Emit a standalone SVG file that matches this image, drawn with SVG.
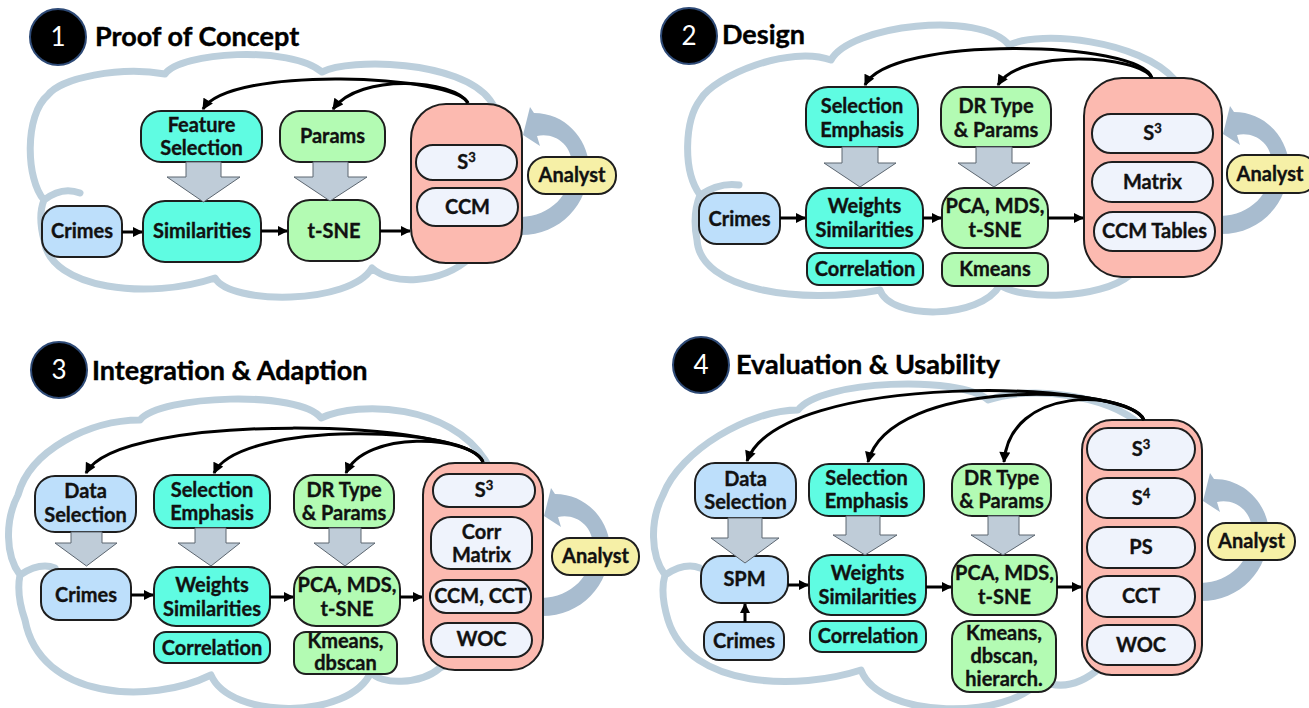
<svg xmlns="http://www.w3.org/2000/svg" width="1309" height="708" viewBox="0 0 1309 708">
<style>
.cloud{fill:none;stroke:#BCCFDC;stroke-width:7;stroke-linejoin:round;stroke-linecap:round}
.n{stroke:#1E1E1E;stroke-width:2}
.blue{fill:#BDDFFB}.aqua{fill:#5FFCE2}.green{fill:#B3FBB3}.pink{fill:#FCBAB0}.inner{fill:#EFF3FC}.yel{fill:#F6F0A7}
.t{font-family:Lato,"Liberation Sans",sans-serif;font-weight:700;font-size:20px;fill:#111;stroke:#111;stroke-width:0.35;text-anchor:middle}
.title{font-family:Lato,"Liberation Sans",sans-serif;font-weight:700;font-size:27px;fill:#000;stroke:#000;stroke-width:0.4}
.badge{fill:#000;stroke:#2E4A76;stroke-width:2}
.bnum{font-family:Lato,"Liberation Sans",sans-serif;font-size:26px;fill:#fff;text-anchor:middle}
.fb{fill:none;stroke:#000;stroke-width:3;marker-end:url(#ah)}
.ar{fill:none;stroke:#000;stroke-width:3;marker-end:url(#ahs)}
.blk{fill:#BFCCD8;stroke:#5C6670;stroke-width:1}
.loop{fill:#A8BCCF}
</style>
<defs>
<marker id="ah" viewBox="0 0 10 10" refX="9" refY="5" markerWidth="12" markerHeight="11" markerUnits="userSpaceOnUse" orient="auto"><path d="M0,0 L10,5 L0,10 z" fill="#000"/></marker>
<marker id="ahs" viewBox="0 0 10 10" refX="9" refY="5" markerWidth="10" markerHeight="10" markerUnits="userSpaceOnUse" orient="auto"><path d="M0,0 L10,5 L0,10 z" fill="#000"/></marker>
<path id="loopShape" d="M 521 235 C 560 235, 589 205, 589 165 C 587 138, 565 113, 534 113 L 530 107 L 523 135 L 540 146 L 537 136 C 555 132, 572 145, 572 165 C 572 195, 550 216, 521 217 Z"/>
</defs>
<rect width="1309" height="708" fill="#fff"/>

<g id="clouds">
<path class="cloud" d="M 44 200 C 26 180, 24 115, 48 95 C 60 78, 120 66, 165 74 C 180 52, 290 45, 322 72 C 350 58, 460 60, 490 100 C 520 140, 520 230, 470 258 C 440 285, 390 285, 372 268 C 350 305, 230 305, 215 278 C 150 300, 50 290, 44 240 C 40 225, 40 210, 44 200 Z M 44 200 Q 62 186 80 193"/>
<path class="cloud" d="M 700 195 C 682 170, 685 120, 700 100 C 715 75, 790 45, 831 60 C 850 25, 980 10, 1009 45 C 1040 30, 1140 40, 1175 80 C 1200 130, 1200 240, 1130 275 C 1100 300, 1020 300, 1000 285 C 980 320, 890 320, 880 290 C 800 305, 700 290, 697 240 C 694 225, 694 210, 700 195 Z M 700 195 Q 720 182 739 185"/>
<path class="cloud" d="M 20 575 C 5 555, 5 520, 18 495 C 30 450, 90 420, 140 420 C 160 395, 300 390, 321 418 C 360 400, 450 405, 485 460 C 510 500, 510 640, 440 668 C 420 685, 380 685, 371 672 C 350 720, 230 720, 211 675 C 150 705, 40 700, 25 620 C 18 600, 18 585, 20 575 Z M 20 575 Q 40 562 55 568"/>
<path class="cloud" d="M 665 575 C 650 555, 650 520, 663 495 C 680 450, 750 410, 798 410 C 820 380, 960 375, 988 400 C 1030 385, 1110 395, 1140 425 C 1170 470, 1170 640, 1100 668 C 1080 685, 1060 690, 1040 680 C 1010 720, 880 720, 861 670 C 800 690, 690 690, 668 620 C 662 600, 662 585, 665 575 Z M 665 575 Q 685 562 700 568"/>
</g>

<g id="loops">
<use href="#loopShape" class="loop"/>
<use href="#loopShape" class="loop" transform="translate(700,-1)"/>
<use href="#loopShape" class="loop" transform="translate(21,381)"/>
<use href="#loopShape" class="loop" transform="translate(680,366)"/>
</g>

<!-- Panel 1 -->
<g id="p1-title"><circle class="badge" cx="58" cy="37" r="28"/><text class="bnum" x="58" y="46">1</text><text class="title" x="95" y="46">Proof of Concept</text></g>
<g id="p1-feature"><rect class="n aqua" x="141" y="111" width="121" height="51" rx="20"/><text class="t" x="201.5" y="132">Feature</text><text class="t" x="201.5" y="155">Selection</text></g>
<g id="p1-params"><rect class="n green" x="280" y="111" width="105" height="51" rx="20"/><text class="t" x="332.5" y="143">Params</text></g>
<g id="p1-crimes"><rect class="n blue" x="42" y="206" width="80" height="51" rx="18"/><text class="t" x="82" y="238">Crimes</text></g>
<g id="p1-sim"><rect class="n aqua" x="143" y="201" width="118" height="61" rx="22"/><text class="t" x="202" y="238">Similarities</text></g>
<g id="p1-tsne"><rect class="n green" x="288" y="200" width="92" height="61" rx="22"/><text class="t" x="334" y="238">t-SNE</text></g>
<g id="p1-views"><rect class="n pink" x="411" y="104" width="111" height="159" rx="35"/>
<rect class="n inner" x="416" y="145" width="101" height="35" rx="17"/><text class="t" x="466.5" y="169">S<tspan dy="-7" font-size="13">3</tspan></text>
<rect class="n inner" x="417" y="188" width="101" height="38" rx="19"/><text class="t" x="467.5" y="214">CCM</text></g>
<g id="p1-analyst"><rect class="n yel" x="528" y="157" width="88" height="37" rx="18"/><text class="t" x="572" y="182">Analyst</text></g>

<!-- Panel 2 -->
<g id="p2-title"><circle class="badge" cx="689" cy="36" r="28"/><text class="bnum" x="689" y="45">2</text><text class="title" x="722" y="44">Design</text></g>
<g id="p2-selemph"><rect class="n aqua" x="806" y="87" width="112" height="60" rx="22"/><text class="t" x="862" y="113">Selection</text><text class="t" x="862" y="137">Emphasis</text></g>
<g id="p2-dr"><rect class="n green" x="941" y="87" width="110" height="60" rx="22"/><text class="t" x="996" y="113">DR Type</text><text class="t" x="996" y="137">&amp; Params</text></g>
<g id="p2-crimes"><rect class="n blue" x="699" y="193" width="81" height="51" rx="18"/><text class="t" x="739.5" y="226">Crimes</text></g>
<g id="p2-weights"><rect class="n aqua" x="806" y="188" width="117" height="60" rx="22"/><text class="t" x="864.5" y="213">Weights</text><text class="t" x="864.5" y="237">Similarities</text></g>
<g id="p2-pca"><rect class="n green" x="942" y="188" width="106" height="60" rx="22"/><text class="t" x="995" y="213">PCA, MDS,</text><text class="t" x="995" y="237">t-SNE</text></g>
<g id="p2-corr"><rect class="n aqua" x="807" y="253" width="116" height="32" rx="12"/><text class="t" x="865" y="276">Correlation</text></g>
<g id="p2-kmeans"><rect class="n green" x="942" y="253" width="106" height="33" rx="12"/><text class="t" x="995" y="276">Kmeans</text></g>
<g id="p2-views"><rect class="n pink" x="1084" y="78" width="138" height="199" rx="38"/>
<rect class="n inner" x="1092" y="114" width="121" height="39" rx="19"/><text class="t" x="1152.5" y="140">S<tspan dy="-7" font-size="13">3</tspan></text>
<rect class="n inner" x="1092" y="162" width="121" height="40" rx="20"/><text class="t" x="1152.5" y="189">Matrix</text>
<rect class="n inner" x="1094" y="212" width="121" height="39" rx="19"/><text class="t" x="1154.5" y="238">CCM Tables</text></g>
<g id="p2-analyst"><rect class="n yel" x="1227" y="155" width="90" height="38" rx="18"/><text class="t" x="1270" y="181">Analyst</text></g>

<!-- Panel 3 -->
<g id="p3-title"><circle class="badge" cx="59" cy="370" r="28"/><text class="bnum" x="59" y="379">3</text><text class="title" x="92" y="380">Integration &amp; Adaption</text></g>
<g id="p3-datasel"><rect class="n blue" x="35" y="476" width="101" height="56" rx="20"/><text class="t" x="85.5" y="498">Data</text><text class="t" x="85.5" y="522">Selection</text></g>
<g id="p3-selemph"><rect class="n aqua" x="154" y="475" width="116" height="53" rx="20"/><text class="t" x="212" y="497">Selection</text><text class="t" x="212" y="520">Emphasis</text></g>
<g id="p3-dr"><rect class="n green" x="294" y="475" width="100" height="53" rx="20"/><text class="t" x="344" y="497">DR Type</text><text class="t" x="344" y="520">&amp; Params</text></g>
<g id="p3-crimes"><rect class="n blue" x="41" y="569" width="90" height="51" rx="18"/><text class="t" x="86" y="602">Crimes</text></g>
<g id="p3-weights"><rect class="n aqua" x="154" y="567" width="116" height="59" rx="22"/><text class="t" x="212" y="592">Weights</text><text class="t" x="212" y="616">Similarities</text></g>
<g id="p3-pca"><rect class="n green" x="294" y="567" width="106" height="59" rx="22"/><text class="t" x="347" y="592">PCA, MDS,</text><text class="t" x="347" y="616">t-SNE</text></g>
<g id="p3-corr"><rect class="n aqua" x="154" y="632" width="116" height="31" rx="12"/><text class="t" x="212" y="655">Correlation</text></g>
<g id="p3-kmeans"><rect class="n green" x="294" y="632" width="103" height="42" rx="12"/><text class="t" x="345.5" y="648" font-size="18.5">Kmeans,</text><text class="t" x="345.5" y="670" font-size="18.5">dbscan</text></g>
<g id="p3-views"><rect class="n pink" x="423" y="463" width="120" height="207" rx="32"/>
<rect class="n inner" x="433" y="474" width="102" height="33" rx="16"/><text class="t" x="484" y="497">S<tspan dy="-7" font-size="13">3</tspan></text>
<rect class="n inner" x="431" y="517" width="101" height="52" rx="20"/><text class="t" x="481.5" y="539">Corr</text><text class="t" x="481.5" y="562">Matrix</text>
<rect class="n inner" x="430" y="580" width="101" height="33" rx="16"/><text class="t" x="480.5" y="603">CCM, CCT</text>
<rect class="n inner" x="431" y="623" width="101" height="34" rx="17"/><text class="t" x="481.5" y="646">WOC</text></g>
<g id="p3-analyst"><rect class="n yel" x="552" y="538" width="87" height="37" rx="18"/><text class="t" x="595.5" y="563">Analyst</text></g>

<!-- Panel 4 -->
<g id="p4-title"><circle class="badge" cx="701" cy="365" r="28"/><text class="bnum" x="701" y="374">4</text><text class="title" x="736" y="374">Evaluation &amp; Usability</text></g>
<g id="p4-datasel"><rect class="n blue" x="695" y="463" width="101" height="55" rx="20"/><text class="t" x="745.5" y="486">Data</text><text class="t" x="745.5" y="509">Selection</text></g>
<g id="p4-selemph"><rect class="n aqua" x="809" y="464" width="115" height="52" rx="20"/><text class="t" x="866.5" y="485">Selection</text><text class="t" x="866.5" y="508">Emphasis</text></g>
<g id="p4-dr"><rect class="n green" x="952" y="464" width="99" height="52" rx="20"/><text class="t" x="1001.5" y="485">DR Type</text><text class="t" x="1001.5" y="508">&amp; Params</text></g>
<g id="p4-spm"><rect class="n blue" x="701" y="556" width="87" height="47" rx="20"/><text class="t" x="744.5" y="586">SPM</text></g>
<g id="p4-crimes"><rect class="n blue" x="704" y="622" width="80" height="38" rx="15"/><text class="t" x="744" y="648">Crimes</text></g>
<g id="p4-weights"><rect class="n aqua" x="809" y="555" width="117" height="60" rx="22"/><text class="t" x="867.5" y="580">Weights</text><text class="t" x="867.5" y="604">Similarities</text></g>
<g id="p4-pca"><rect class="n green" x="952" y="555" width="105" height="60" rx="22"/><text class="t" x="1004.5" y="580">PCA, MDS,</text><text class="t" x="1004.5" y="604">t-SNE</text></g>
<g id="p4-corr"><rect class="n aqua" x="810" y="621" width="116" height="31" rx="12"/><text class="t" x="868" y="643">Correlation</text></g>
<g id="p4-kmeans"><rect class="n green" x="952" y="621" width="104" height="71" rx="18"/><text class="t" x="1004" y="640">Kmeans,</text><text class="t" x="1004" y="663">dbscan,</text><text class="t" x="1004" y="686">hierarch.</text></g>
<g id="p4-views"><rect class="n pink" x="1082" y="420" width="120" height="255" rx="30"/>
<rect class="n inner" x="1087" y="428" width="108" height="42" rx="21"/><text class="t" x="1141" y="456">S<tspan dy="-7" font-size="13">3</tspan></text>
<rect class="n inner" x="1087" y="478" width="108" height="40" rx="20"/><text class="t" x="1141" y="505">S<tspan dy="-7" font-size="13">4</tspan></text>
<rect class="n inner" x="1087" y="527" width="108" height="41" rx="20"/><text class="t" x="1141" y="554">PS</text>
<rect class="n inner" x="1087" y="576" width="108" height="41" rx="20"/><text class="t" x="1141" y="603">CCT</text>
<rect class="n inner" x="1087" y="625" width="108" height="40" rx="20"/><text class="t" x="1141" y="652">WOC</text></g>
<g id="p4-analyst"><rect class="n yel" x="1208" y="523" width="87" height="37" rx="18"/><text class="t" x="1251.5" y="548">Analyst</text></g>

<g id="connectors">
<!-- panel 1 -->
<polygon class="blk" points="186,162 221,162 221,177 240,177 203.5,202 167,177 186,177"/>
<polygon class="blk" points="313,162 348,162 348,177 367,177 330,201 294,177 313,177"/>
<path class="ar" d="M 122 232 L 142 232"/>
<path class="ar" d="M 261 231 L 287 231"/>
<path class="ar" d="M 380 231 L 410 231"/>
<path class="fb" d="M 468 103 C 455 75, 230 65, 203 109"/>
<path class="fb" d="M 468 103 C 455 80, 360 72, 333 109"/>
<!-- panel 2 -->
<polygon class="blk" points="842,147 878,147 878,163 896,163 860,187 824,163 842,163"/>
<polygon class="blk" points="976,147 1012,147 1012,163 1030,163 994,187 958,163 976,163"/>
<path class="ar" d="M 780 218 L 805 218"/>
<path class="ar" d="M 923 218 L 941 218"/>
<path class="ar" d="M 1048 218 L 1083 218"/>
<path class="fb" d="M 1152 78 C 1140 40, 890 35, 865 85"/>
<path class="fb" d="M 1152 78 C 1140 55, 1020 48, 998 85"/>
<!-- panel 3 -->
<polygon class="blk" points="71,532 102,532 102,543 117,543 86.5,566 55,543 71,543"/>
<polygon class="blk" points="195,528 226,528 226,543 240,543 211,566 178,543 195,543"/>
<polygon class="blk" points="329,528 361,528 361,543 375,543 345,566 314,543 329,543"/>
<path class="ar" d="M 131 595 L 153 595"/>
<path class="ar" d="M 270 597 L 293 597"/>
<path class="ar" d="M 400 597 L 422 597"/>
<path class="fb" d="M 483 462 C 470 420, 120 410, 86 473"/>
<path class="fb" d="M 483 462 C 470 425, 240 420, 214 473"/>
<path class="fb" d="M 483 462 C 470 435, 365 430, 346 473"/>
<!-- panel 4 -->
<polygon class="blk" points="728,518 762,518 762,538 779,538 745,563 711,538 728,538"/>
<polygon class="blk" points="846,516 880,516 880,535 897,535 865,555 833,535 846,535"/>
<polygon class="blk" points="988,516 1019,516 1019,535 1035,535 1003,555 971,535 988,535"/>
<path class="ar" d="M 745 622 L 745 604"/>
<path class="ar" d="M 788 585 L 808 585"/>
<path class="ar" d="M 926 587 L 951 587"/>
<path class="ar" d="M 1057 587 L 1081 587"/>
<path class="fb" d="M 1144 420 C 1130 380, 780 370, 747 461"/>
<path class="fb" d="M 1144 420 C 1130 385, 890 375, 868 462"/>
<path class="fb" d="M 1144 420 C 1125 390, 1010 385, 1004 462"/>
</g>
</svg>
